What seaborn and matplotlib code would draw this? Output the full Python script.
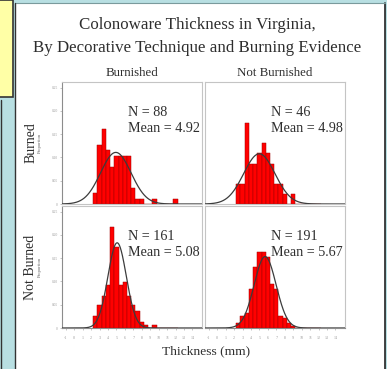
import numpy as np
import pandas as pd
import matplotlib
matplotlib.use("Agg")
import matplotlib.pyplot as plt
from matplotlib.patches import Rectangle
from matplotlib.lines import Line2D
import seaborn as sns

# ---------------- data ----------------
col_labels = ["Burnished", "Not Burnished"]
row_labels = ["Burned", "Not Burned"]
bin_centers = [2.5, 3.0, 3.5, 4.0, 4.5, 5.0, 5.5, 6.0, 6.5, 7.0, 7.5, 8.0, 8.5, 9.0,
               9.5, 10.0, 10.5, 11.0, 11.5, 12.0]
counts_burned_burnished = [2, 11, 14, 10, 7, 9, 9, 9, 9, 3, 1, 1, 0, 0, 1, 0, 0, 0, 0, 1]
counts_burned_notburn = [2, 2, 8, 4, 4, 5, 6, 5, 4, 2, 2, 1, 0, 1, 0, 0, 0, 0, 0, 0]
counts_notb_burnished = [4, 8, 11, 15, 35, 28, 15, 16, 11, 8, 6, 2, 1, 0, 1, 0, 0, 0, 0, 0]
counts_notb_notburn = [2, 5, 6, 16, 25, 31, 31, 29, 18, 16, 5, 4, 2, 1, 0, 0, 0, 0, 0, 0]
n_values = [88, 46, 161, 191]
mean_values = [4.92, 4.98, 5.08, 5.67]
curve_sd = [1.80, 1.85, 1.09, 1.30]
bin_width = 0.5
x_ticks = list(range(-1, 15))
y_ticks = [0, 0.05, 0.10, 0.15, 0.20, 0.25]
y_tick_labels = ["0", "0.05", "0.10", "0.15", "0.20", "0.25"]

W, H = 387, 369
fig = plt.figure(figsize=(W / 100, H / 100), dpi=100)
sns.set_style("white")
plt.rcParams["font.family"] = ["Liberation Serif", "DejaVu Serif"]
fig.patch.set_facecolor("#b8dfe2")

def fx(px):
    return px / W

def fy(py):
    return 1 - py / H

# decorative poster background
fig.add_artist(Rectangle((fx(15), fy(369)), fx(370), 366 / H, transform=fig.transFigure,
                         facecolor="white", edgecolor="none", zorder=0))
fig.add_artist(Line2D([fx(385), fx(385)], [fy(3), fy(369)], transform=fig.transFigure,
                      color="#222222", lw=1.2))
fig.add_artist(Line2D([fx(15), fx(385)], [fy(3), fy(3)], transform=fig.transFigure,
                      color="#7a9a9c", lw=0.8))
fig.add_artist(Line2D([fx(15), fx(15)], [fy(3), fy(369)], transform=fig.transFigure,
                      color="#333333", lw=1.0))
fig.add_artist(Rectangle((fx(-2), fy(97)), fx(15), 97 / H, transform=fig.transFigure,
                         facecolor="#ffffa6", edgecolor="#333333", lw=1.2, zorder=1))
fig.add_artist(Line2D([fx(1.2), fx(1.2)], [fy(100), fy(369)], transform=fig.transFigure,
                      color="#333333", lw=1.0))

panels = [
    (counts_burned_burnished, 62, 82),
    (counts_burned_notburn, 205, 82),
    (counts_notb_burnished, 62, 206),
    (counts_notb_notburn, 205, 206),
]
pw, ph = 140, 122
xlim = (-1.45, 15.13)
ylim = (0, 0.262)
edges = [c - bin_width / 2 for c in bin_centers] + [bin_centers[-1] + bin_width / 2]
grid = np.linspace(xlim[0], xlim[1], 400)

for i, (counts, px, py) in enumerate(panels):
    ax = fig.add_axes([fx(px), fy(py + ph), pw / W, ph / H])
    obs = pd.DataFrame({"x": np.repeat(bin_centers, counts)})
    sns.histplot(data=obs, x="x", stat="proportion", bins=edges, ax=ax, color="#ff0000",
                 edgecolor="#a00000", linewidth=0.35, alpha=1, zorder=2)
    m, s = mean_values[i], curve_sd[i]
    dens = bin_width * np.exp(-0.5 * ((grid - m) / s) ** 2) / (s * np.sqrt(2 * np.pi))
    sns.lineplot(x=grid, y=dens, ax=ax, color="#3c3c3c", lw=0.9, zorder=3)
    ax.set_xlim(*xlim)
    ax.set_ylim(*ylim)
    ax.set_xlabel("")
    ax.set_ylabel("")
    ax.set_facecolor("white")
    for sp in ax.spines.values():
        sp.set_color("#c4c4c4")
        sp.set_linewidth(0.8)
    ax.set_xticks(x_ticks)
    ax.set_yticks(y_ticks)
    ax.tick_params(axis="both", length=1.5, width=0.4, colors="#999999", pad=1.5,
                   labelsize=2.6, labelcolor="#9a9a9a")
    if i % 2 == 0:
        ax.spines["left"].set_color("#8c8c8c")
        ax.set_yticklabels(y_tick_labels)
        ax.tick_params(axis="y", left=True)
    else:
        ax.tick_params(axis="y", left=False, labelleft=False)
    if i >= 2:
        ax.spines["bottom"].set_color("#8c8c8c")
        ax.set_xticklabels([str(t) for t in x_ticks])
        ax.tick_params(axis="x", bottom=True, pad=4, labelsize=3.0)
    else:
        ax.tick_params(axis="x", bottom=False, labelbottom=False)
    ax.text(0.47, 0.72, f"N = {n_values[i]}", transform=ax.transAxes, fontsize=10.2,
            color="#2e2e2e", ha="left", va="baseline")
    ax.text(0.47, 0.59, f"Mean = {mean_values[i]:.2f}", transform=ax.transAxes,
            fontsize=10.2, color="#2e2e2e", ha="left", va="baseline")

txt = "#2e2e2e"
fig.text(fx(197), fy(29), "Colonoware Thickness in Virginia,", ha="center", va="baseline",
         fontsize=12.2, color=txt)
fig.text(fx(197), fy(52), "By Decorative Technique and Burning Evidence", ha="center",
         va="baseline", fontsize=12.2, color=txt)
fig.text(fx(132), fy(76), col_labels[0], ha="center", va="baseline", fontsize=9.3, color=txt)
fig.text(fx(275), fy(76), col_labels[1], ha="center", va="baseline", fontsize=9.3, color=txt)
fig.text(fx(31), fy(143), row_labels[0], ha="center", va="center", rotation=90,
         fontsize=10, color=txt)
fig.text(fx(40), fy(143), "Proportion", ha="center", va="center", rotation=90,
         fontsize=3.4, color="#666666")
fig.text(fx(31), fy(267), row_labels[1], ha="center", va="center", rotation=90,
         fontsize=10, color=txt)
fig.text(fx(40), fy(267), "Proportion", ha="center", va="center", rotation=90,
         fontsize=3.4, color="#666666")
fig.text(fx(206), fy(354), "Thickness (mm)", ha="center", va="baseline", fontsize=9.7,
         color=txt)

fig.savefig("out.png", dpi=100, facecolor=fig.get_facecolor())
